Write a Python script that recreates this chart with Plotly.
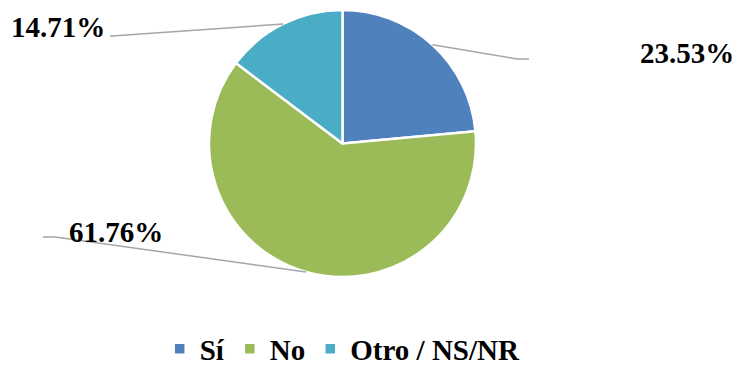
import math
import plotly.graph_objects as go

categories = ["Sí", "No", "Otro / NS/NR"]
values = [23.53, 61.76, 14.71]
colors = ["#4F81BD", "#9BBB59", "#4BACC6"]

W, H = 737, 367
cx, cy, R = 342.5, 143.5, 133.5
FONT = "'Liberation Serif', 'Times New Roman', Times, serif"

def px(x):
    return x / W

def py(y):
    return 1 - y / H

# label layout (pixel positions): elbow, end of line, text centre
label_layout = [
    dict(elbow=(517, 59), end=(529, 59), text=(687, 53)),
    dict(elbow=(55, 237), end=(43, 237), text=(116, 232)),
    dict(elbow=(112, 36), end=(110, 36), text=(58, 27)),
]

fig = go.Figure()
fig.add_trace(go.Pie(
    labels=[f"<b>{c}</b>" for c in categories], values=values, sort=False,
    direction="clockwise", rotation=0, textinfo="none", hoverinfo="label+percent",
    marker=dict(colors=colors, line=dict(color="white", width=2.5)),
    domain=dict(x=[px(cx - R), px(cx + R)], y=[py(cy + R), py(cy - R)]),
))

total = sum(values)
shapes = []
annotations = []
cum = 0
for v, lay in zip(values, label_layout):
    mid = (cum + v / 2) / total * 2 * math.pi
    cum += v
    sx = cx + R * math.sin(mid)
    sy = cy - R * math.cos(mid)
    ex, ey = lay["elbow"]
    fx, fy = lay["end"]
    path = f"M {px(sx)},{py(sy)} L {px(ex)},{py(ey)} L {px(fx)},{py(fy)}"
    shapes.append(dict(type="path", xref="paper", yref="paper", path=path,
                       line=dict(color="#A6A6A6", width=1.5)))
    tx, ty = lay["text"]
    annotations.append(dict(x=px(tx), y=py(ty), xref="paper", yref="paper",
                            text=f"<b>{v / total * 100:.2f}%</b>", showarrow=False,
                            xanchor="center", yanchor="middle",
                            font=dict(family=FONT, size=29, color="black")))

fig.update_layout(
    width=W, height=H, margin=dict(l=0, r=0, t=0, b=0, autoexpand=False),
    paper_bgcolor="white", plot_bgcolor="white",
    shapes=shapes, annotations=annotations,
    legend=dict(orientation="h", x=0.465, xanchor="center", y=-0.02, yanchor="bottom",
                font=dict(family=FONT, size=29, color="black"),
                itemclick=False, itemwidth=30, tracegroupgap=0),
    showlegend=True,
)

fig.write_html("out.html")
